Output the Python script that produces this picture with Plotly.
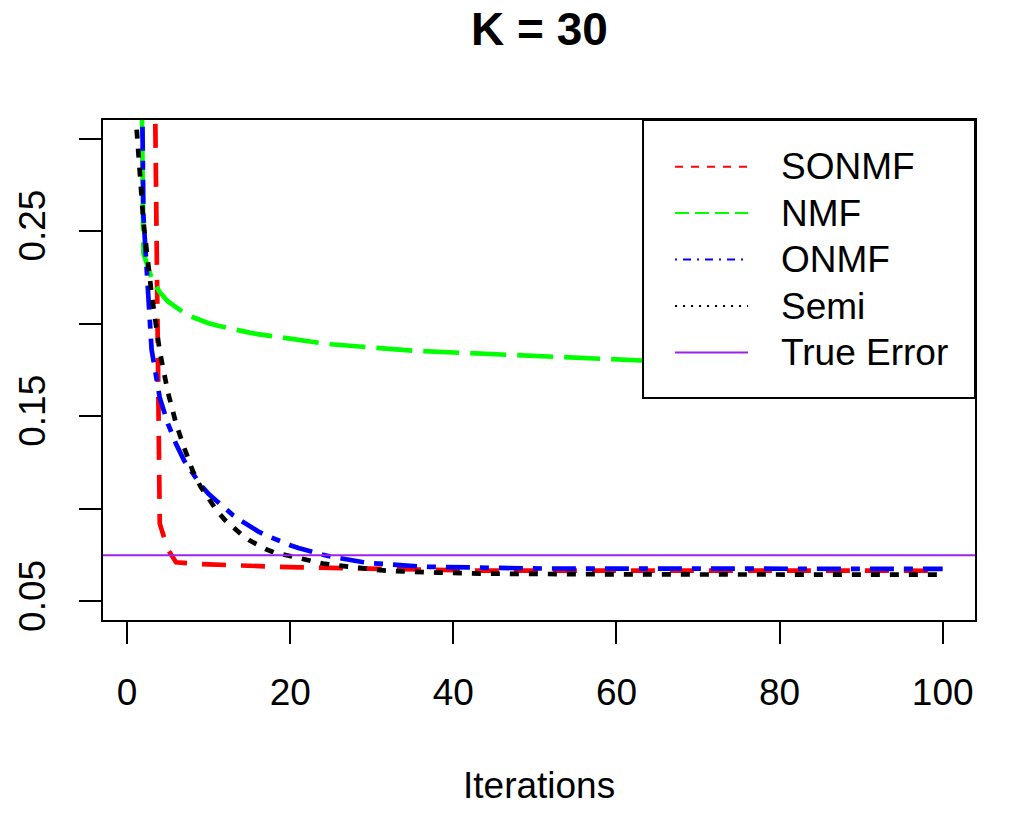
import plotly.graph_objects as go

iterations = list(range(1, 101))

sonmf = [0.75, 0.62, 0.49, 0.092, 0.078, 0.0712, 0.0707, 0.0704, 0.0702, 0.0700,
         0.0698, 0.0697, 0.0695, 0.0694, 0.0692, 0.0691, 0.0689, 0.0688, 0.0686, 0.0685,
         0.0684, 0.0684, 0.0683, 0.0683, 0.0682, 0.0681, 0.0680, 0.0679, 0.0677, 0.0676,
         0.0674, 0.0673, 0.0671, 0.0670, 0.0669, 0.0669, 0.0668, 0.0668, 0.0667, 0.0667,
         0.0667, 0.0667, 0.0667, 0.0667, 0.0667, 0.0667, 0.0667, 0.0667, 0.0667, 0.0667,
         0.0667, 0.0667, 0.0667, 0.0667, 0.0667, 0.0667, 0.0667, 0.0667, 0.0667, 0.0667,
         0.0667, 0.0667, 0.0667, 0.0667, 0.0667, 0.0667, 0.0667, 0.0667, 0.0667, 0.0667,
         0.0666, 0.0666, 0.0666, 0.0666, 0.0666, 0.0666, 0.0666, 0.0666, 0.0666, 0.0666,
         0.0666, 0.0666, 0.0666, 0.0666, 0.0666, 0.0666, 0.0666, 0.0666, 0.0666, 0.0666,
         0.0666, 0.0666, 0.0666, 0.0666, 0.0666, 0.0666, 0.0666, 0.0666, 0.0666, 0.0666]

nmf = [0.650, 0.238, 0.2245, 0.2170, 0.2120, 0.2085, 0.2058, 0.2036, 0.2018, 0.2003,
       0.1990, 0.1979, 0.1969, 0.1960, 0.1952, 0.1944, 0.1937, 0.1931, 0.1925, 0.1919,
       0.1912, 0.1905, 0.1899, 0.1894, 0.1889, 0.1885, 0.1880, 0.1876, 0.1872, 0.1868,
       0.1865, 0.1862, 0.1859, 0.1856, 0.1854, 0.1852, 0.1850, 0.1848, 0.1845, 0.1843,
       0.1841, 0.1839, 0.1837, 0.1835, 0.1833, 0.1831, 0.1829, 0.1826, 0.1824, 0.1822,
       0.1820, 0.1818, 0.1816, 0.1814, 0.1812, 0.1810, 0.1809, 0.1807, 0.1806, 0.1804,
       0.1803, 0.1801, 0.1800, 0.1798, 0.1797, 0.1795, 0.1794, 0.1793, 0.1791, 0.1790,
       0.1789, 0.1788, 0.1786, 0.1785, 0.1784, 0.1783, 0.1782, 0.1780, 0.1779, 0.1778,
       0.1777, 0.1776, 0.1775, 0.1774, 0.1773, 0.1772, 0.1771, 0.1770, 0.1768, 0.1767,
       0.1766, 0.1765, 0.1764, 0.1763, 0.1762, 0.1761, 0.1760, 0.1759, 0.1758, 0.1757]

onmf = [0.66, 0.258, 0.186, 0.160, 0.146, 0.135, 0.126, 0.119, 0.113, 0.108,
        0.104, 0.100, 0.0965, 0.0935, 0.0905, 0.0880, 0.0858, 0.0838, 0.0820, 0.0804,
        0.0789, 0.0775, 0.0763, 0.0752, 0.0742, 0.0733, 0.0725, 0.0718, 0.0712, 0.0707,
        0.0703, 0.0699, 0.0696, 0.0693, 0.0691, 0.0689, 0.0687, 0.0686, 0.0685, 0.0684,
        0.0683, 0.0682, 0.0681, 0.0680, 0.0680, 0.0679, 0.0679, 0.0679, 0.0679, 0.0679,
        0.0678, 0.0678, 0.0678, 0.0678, 0.0678, 0.0678, 0.0678, 0.0678, 0.0678, 0.0678,
        0.0677, 0.0677, 0.0677, 0.0677, 0.0677, 0.0677, 0.0677, 0.0677, 0.0677, 0.0677,
        0.0677, 0.0677, 0.0677, 0.0677, 0.0677, 0.0677, 0.0677, 0.0677, 0.0677, 0.0677,
        0.0676, 0.0676, 0.0676, 0.0676, 0.0676, 0.0676, 0.0676, 0.0676, 0.0676, 0.0676,
        0.0676, 0.0676, 0.0676, 0.0676, 0.0676, 0.0676, 0.0676, 0.0676, 0.0676, 0.0676]

semi = [0.315, 0.255, 0.216, 0.185, 0.163, 0.146, 0.133, 0.121, 0.112, 0.105,
        0.0990, 0.0940, 0.0900, 0.0862, 0.0830, 0.0805, 0.0783, 0.0765, 0.0755, 0.0744,
        0.0733, 0.0720, 0.0712, 0.0705, 0.0699, 0.0693, 0.0688, 0.0683, 0.0678, 0.0673,
        0.0669, 0.0666, 0.0663, 0.0661, 0.0659, 0.0658, 0.0657, 0.0656, 0.0654, 0.0653,
        0.0652, 0.0651, 0.0650, 0.0650, 0.0650, 0.0649, 0.0649, 0.0649, 0.0649, 0.0648,
        0.0648, 0.0648, 0.0648, 0.0648, 0.0647, 0.0647, 0.0647, 0.0647, 0.0647, 0.0647,
        0.0647, 0.0646, 0.0646, 0.0646, 0.0646, 0.0646, 0.0646, 0.0646, 0.0646, 0.0646,
        0.0646, 0.0646, 0.0646, 0.0646, 0.0646, 0.0645, 0.0645, 0.0645, 0.0645, 0.0645,
        0.0645, 0.0645, 0.0645, 0.0645, 0.0645, 0.0645, 0.0645, 0.0645, 0.0645, 0.0645,
        0.0645, 0.0645, 0.0645, 0.0645, 0.0645, 0.0645, 0.0645, 0.0645, 0.0645, 0.0645]

TRUE_ERROR = 0.075

series_names = ["SONMF", "NMF", "ONMF", "Semi", "True Error"]
series_colors = ["#FF0000", "#00FF00", "#0000FF", "#000000", "#A020F0"]
plot_dashes = ["24px,15px", "36px,11px", "9px,10px,24px,10px", "9px,10px", "solid"]
legend_dashes = ["8px,8px", "14px,6px", "2px,6px,8px,6px", "2px,6px", "solid"]

FONT = "Liberation Sans, Arial, sans-serif"

fig = go.Figure()
for name, vals, col, dash in zip(series_names[:4], [sonmf, nmf, onmf, semi],
                                 series_colors[:4], plot_dashes[:4]):
    fig.add_trace(go.Scatter(x=iterations, y=vals, mode="lines", name=name,
                             line=dict(color=col, width=4.7, dash=dash),
                             showlegend=False))

# true error horizontal line (abline)
fig.add_shape(type="line", xref="paper", x0=0, x1=1, yref="y",
              y0=TRUE_ERROR, y1=TRUE_ERROR,
              line=dict(color=series_colors[4], width=2))

# legend box
L, R, B, T = 0.6193, 1.0, 0.444, 1.0
fig.add_shape(type="rect", xref="paper", yref="paper", x0=L, x1=R, y0=B, y1=T,
              fillcolor="white", line=dict(color="black", width=2), layer="above")
row_y = [0.9066, 0.814, 0.721, 0.628, 0.535]
for name, col, dash, yy in zip(series_names, series_colors, legend_dashes, row_y):
    fig.add_shape(type="line", xref="paper", yref="paper", x0=0.656, x1=0.7397,
                  y0=yy, y1=yy, line=dict(color=col, width=2, dash=dash), layer="above")
    fig.add_annotation(xref="paper", yref="paper", x=0.7752, y=yy, text=name,
                       showarrow=False, xanchor="left", yanchor="middle",
                       font=dict(family=FONT, size=37, color="black"))

fig.add_annotation(xref="paper", yref="paper", x=0.5, y=1.237, text="<b>K = 30</b>",
                   showarrow=False, xanchor="center", yanchor="top",
                   font=dict(family=FONT, size=46, color="black"))
fig.add_annotation(xref="paper", yref="paper", x=0.5, y=-0.33, text="Iterations",
                   showarrow=False, xanchor="center", yanchor="middle",
                   font=dict(family=FONT, size=37, color="black"))

fig.update_layout(
    width=1026, height=819,
    margin=dict(l=103, r=51, t=120, b=199),
    paper_bgcolor="white", plot_bgcolor="white",
    font=dict(family=FONT, size=37, color="black"),
    showlegend=False,
)
fig.update_xaxes(range=[-2.96, 103.96], tickvals=[0, 20, 40, 60, 80, 100],
                 ticks="outside", ticklen=22, tickwidth=2, tickcolor="black",
                 showline=True, linewidth=2, linecolor="black", mirror=True,
                 showgrid=False, zeroline=False, ticklabelstandoff=17,
                 tickfont=dict(family=FONT, size=37))
fig.update_yaxes(range=[0.04, 0.31], tickvals=[0.05, 0.10, 0.15, 0.20, 0.25, 0.30],
                 ticktext=["0.05", "", "0.15", "", "0.25", ""], tickangle=-90,
                 ticks="outside", ticklen=22, tickwidth=2, tickcolor="black",
                 showline=True, linewidth=2, linecolor="black", mirror=True,
                 showgrid=False, zeroline=False, ticklabelstandoff=19,
                 tickfont=dict(family=FONT, size=37))

fig.write_html("out.html", config={"displayModeBar": False},
               post_script="document.body.style.margin='0';document.body.style.overflow='hidden';")
